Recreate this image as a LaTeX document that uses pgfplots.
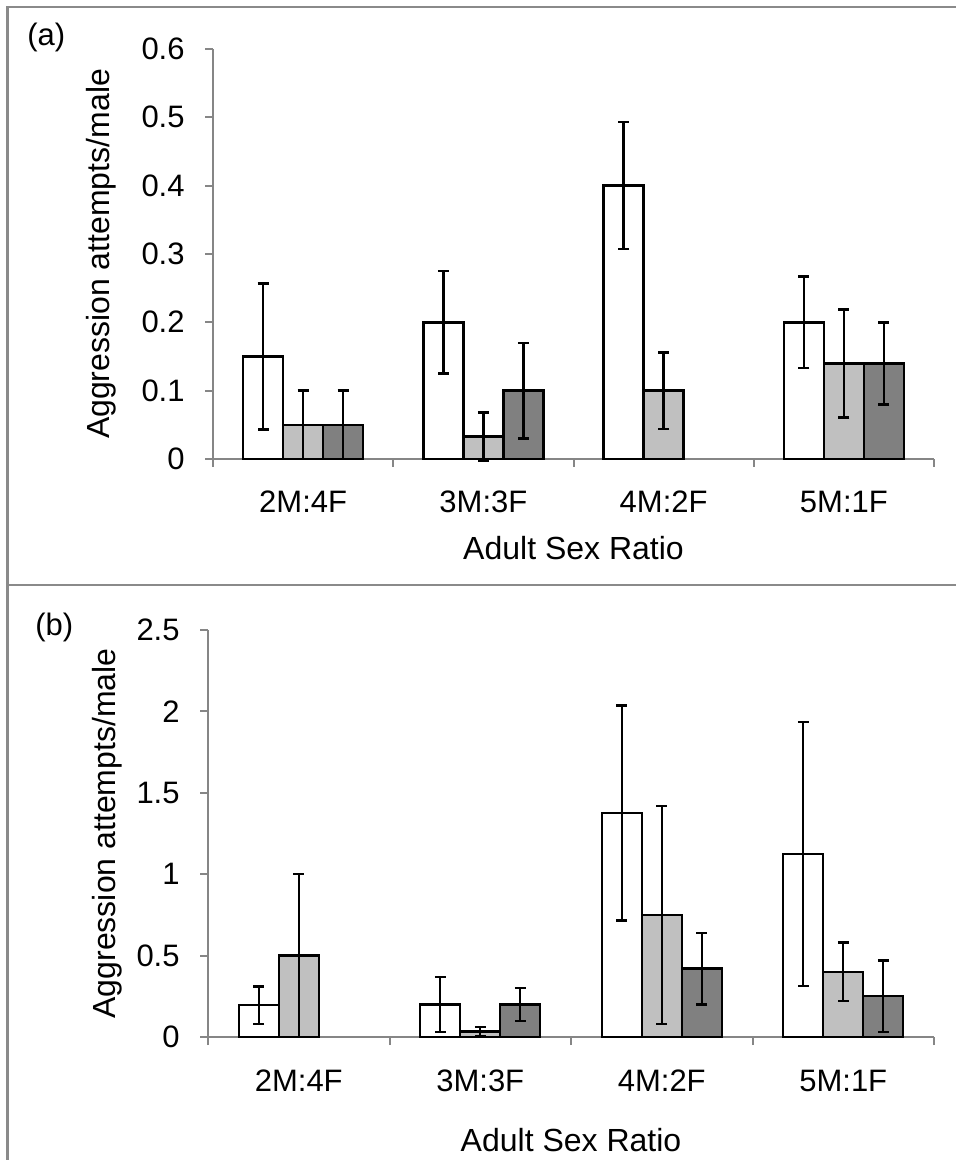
\documentclass[border=0pt]{standalone}
\usepackage{pgfplots}
\pgfplotsset{compat=1.18}
\usepackage{fontspec}
\setmainfont{Liberation Sans}

\definecolor{axisgray}{HTML}{868686}
\definecolor{framegray}{HTML}{8A8A8A}
\definecolor{lightbar}{HTML}{C0C0C0}
\definecolor{darkbar}{HTML}{808080}

\pgfplotsset{
  ratioaxis/.style={
    scale only axis,
    ybar=0pt, bar width=20pt,
    xmin=-0.5, xmax=3.5, ymin=0,
    xtick={0,1,2,3},
    xticklabels={2M:4F,3M:3F,4M:2F,5M:1F},
    minor xtick={-0.5,0.5,1.5,2.5,3.5},
    axis x line*=bottom, axis y line*=left,
    axis line style={axisgray, line width=1pt},
    tick align=outside,
    major tick length=4pt, minor tick length=4pt,
    tick style={axisgray, line width=1pt},
    major x tick style={draw=none},
    /pgf/number format/assume math mode=true,
    tick label style={font=\fontsize{15.5}{18}\selectfont, black},
    yticklabel style={inner sep=0pt, xshift=-10pt},
    xticklabel style={anchor=base, inner sep=0pt, yshift=-23pt},
    label style={font=\fontsize{16}{19}\selectfont},
    xlabel={Adult Sex Ratio},
    ylabel={Aggression attempts/male},
    clip=false,
    every axis plot/.append style={draw=black, line width=1.2pt},
    error bars/y dir=both, error bars/y explicit,
    error bars/error bar style={black, line width=1.2pt},
    error bars/error mark options={rotate=90, black, line width=1.2pt, mark size=2.7pt},
  },
}

\begin{document}
\begin{tikzpicture}[x=1pt,y=1pt]
\useasboundingbox (0,0) rectangle (478,580);

% panel frames
\draw[framegray, line width=1.25pt] (3.75,0) -- (3.75,576.5) -- (478,576.5);
\draw[framegray, line width=1.25pt] (3.75,287.5) -- (478,287.5);

\node[anchor=base west, inner sep=0pt, font=\fontsize{15.5}{18}\selectfont] at (13.5,557) {(a)};
\node[anchor=base west, inner sep=0pt, font=\fontsize{15.5}{18}\selectfont] at (17.5,262) {(b)};

% (a)
\begin{axis}[ratioaxis,
  at={(106.5pt,350.5pt)}, anchor=south west,
  width=360.5pt, height=205pt,
  ymax=0.6, ytick={0,0.1,0.2,0.3,0.4,0.5,0.6},
  xlabel style={at={(axis description cs:0.5,0)}, anchor=base, yshift=-50.5pt},
  ylabel style={at={(axis description cs:-0.1553,0.5)}, anchor=center, rotate=0},
]
\addplot[fill=white] coordinates {(0,0.15) +- (0,0.107) (1,0.2) +- (0,0.075) (2,0.4) +- (0,0.093) (3,0.2) +- (0,0.067)};
\addplot[fill=lightbar] coordinates {(0,0.05) +- (0,0.05) (1,0.033) +- (0,0.035) (2,0.1) +- (0,0.056) (3,0.14) +- (0,0.079)};
\addplot[fill=darkbar] coordinates {(0,0.05) +- (0,0.05) (1,0.1) +- (0,0.07) (3,0.14) +- (0,0.06)};
\end{axis}

% (b)
\begin{axis}[ratioaxis,
  at={(104pt,61.5pt)}, anchor=south west,
  width=363pt, height=203.5pt,
  ymax=2.5, ytick={0,0.5,1,1.5,2,2.5},
  xlabel style={at={(axis description cs:0.5,0)}, anchor=base, yshift=-57pt},
  ylabel style={at={(axis description cs:-0.139,0.5)}, anchor=center, rotate=0},
]
\addplot[fill=white] coordinates {(0,0.195) +- (0,0.115) (1,0.2) +- (0,0.17) (2,1.375) +- (0,0.66) (3,1.125) +- (0,0.81)};
\addplot[fill=lightbar] coordinates {(0,0.5) +- (0,0.5) (1,0.033) +- (0,0.03) (2,0.75) +- (0,0.67) (3,0.4) +- (0,0.18)};
\addplot[fill=darkbar] coordinates {(1,0.2) +- (0,0.1) (2,0.42) +- (0,0.22) (3,0.25) +- (0,0.22)};
\end{axis}
\end{tikzpicture}
\end{document}
